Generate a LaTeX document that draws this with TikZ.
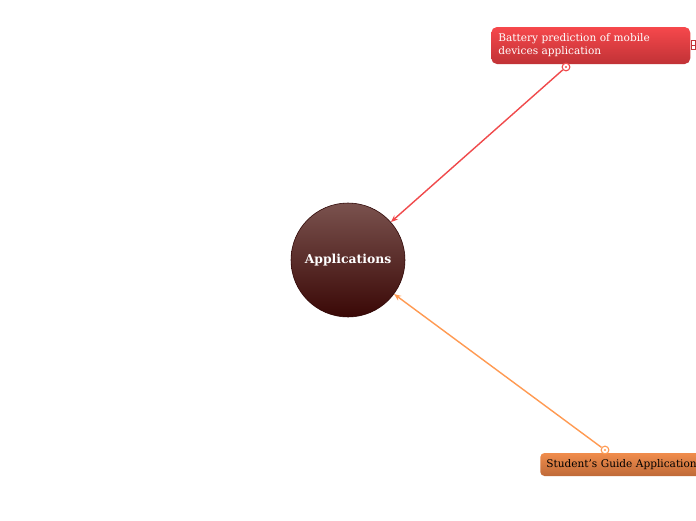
\documentclass[tikz,border=0pt]{standalone}
\usepackage{fontspec}
\setmainfont{DejaVu Serif}
\usepackage{xcolor}
\usetikzlibrary{arrows.meta,positioning,calc}
\definecolor{rootTop}{HTML}{7A524E}
\definecolor{rootBot}{HTML}{3A0806}
\definecolor{batTop}{HTML}{F6484C}
\definecolor{batBot}{HTML}{C13236}
\definecolor{stuTop}{HTML}{F08C4C}
\definecolor{stuBot}{HTML}{BF6A38}
\definecolor{batLine}{HTML}{F04A4C}
\definecolor{stuLine}{HTML}{FF9A52}

\begin{document}
\begin{tikzpicture}[
  x=0.025cm, y=-0.025cm,
  every node/.style={inner sep=0pt},
  root/.style={circle, draw=rootBot!80!black, minimum size=114*0.025cm,
               top color=rootTop, bottom color=rootBot, text=white,
               font=\bfseries\fontsize{8.8}{10}\selectfont},
  topic/.style={anchor=west, rounded corners=4pt, inner xsep=7*0.025cm,
                minimum height=37*0.025cm, minimum width=199*0.025cm,
                text width=185*0.025cm, align=left, text=white,
                font=\fontsize{7.5}{9.2}\selectfont},
  ring/.style={circle, draw=#1, fill=white, thick, minimum size=5.5pt,
               path picture={\fill[#1] (path picture bounding box.center) circle (0.8pt);}},
  link/.style={-{Stealth[length=5pt,width=4pt]}, line width=1pt},
]
\clip (0,0) rectangle (696,520);
\fill[white] (0,0) rectangle (696,520);

% Central topic
\node[root] (app) at (348,260) {Applications};

% Subtopics
\node[topic, top color=batTop, bottom color=batBot] (bat) at (491,45.5)
  {Battery prediction of mobile\\devices application};
\node[topic, top color=stuTop, bottom color=stuBot, text=black,
      minimum height=23*0.025cm, inner xsep=6*0.025cm, rounded corners=3pt,
      minimum width=170*0.025cm, text width=158*0.025cm] (stu) at (540,464.5)
  {Student's Guide Application};

% Connection points
\node[ring=batLine] (batIn) at (566,67) {};
\node[ring=stuLine] (stuIn) at (605,450) {};

% Collapse marker
\node[draw=batBot, fill=white, minimum width=5pt, minimum height=6pt,
      line width=0.7pt] (batCol) at (695,45) {};
\draw[batBot, line width=0.6pt] (batCol.west) -- (batCol.east)
  (batCol.north) -- (batCol.south);

% Links
\draw[link, batLine] (batIn) -- (app);
\draw[link, stuLine] (stuIn) -- (app);
\end{tikzpicture}
\end{document}
